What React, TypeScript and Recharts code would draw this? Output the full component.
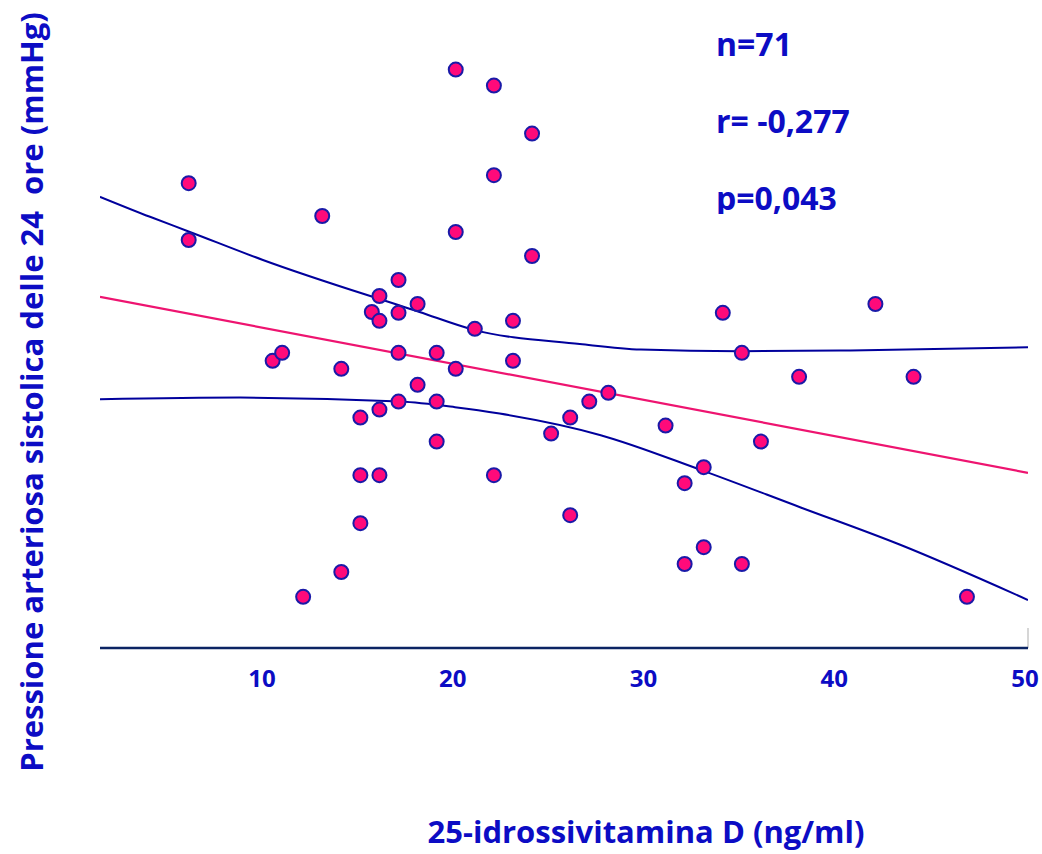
import React from "react";
import {
  ComposedChart,
  Line,
  ReferenceLine,
  Scatter,
  XAxis,
  YAxis,
} from "recharts";

// 25-idrossivitamina D (ng/ml)
const VITAMIN_D = [
  6, 6, 13, 10.4, 10.9, 12, 14, 14, 15, 15, 15, 15.6, 16, 16, 16, 16, 17, 17,
  17, 17, 18, 18, 19, 19, 19, 20, 20, 20, 21, 22, 22, 22, 23, 23, 24, 24, 25,
  26, 26, 27, 28, 31, 32, 32, 33, 33, 34, 35, 35, 36, 38, 42, 44, 46.8,
];

// systolic pressure (24h)
const SYSTOLIC = [
  158.1, 151, 154, 135.9, 136.9, 106.4, 134.9, 109.5, 128.8, 121.6, 115.6, 142,
  144, 140.9, 129.8, 121.6, 146, 141.9, 136.9, 130.8, 143, 132.9, 136.9, 130.8,
  125.8, 172.3, 152, 134.9, 139.9, 170.3, 159.1, 121.6, 140.9, 135.9, 164.3,
  149, 126.8, 128.8, 116.6, 130.8, 131.9, 127.8, 120.6, 110.5, 122.6, 112.6,
  141.9, 136.9, 110.5, 125.8, 133.9, 143, 133.9, 106.4,
];

// regression line endpoints
const FIT_X = [1.35, 50];
const FIT_Y = [143.9, 121.9];

// confidence band
const UPPER_X = [1.35, 3.97, 5.96, 9.89, 18.1, 20.9, 26.5, 29.7, 34.9, 40.7, 50];
const UPPER_Y = [156.4, 153.9, 152.1, 148.5, 142, 139.8, 138, 137.3, 137.1, 137.2, 137.6];
const LOWER_X = [1.35, 8.7, 17.1, 19.96, 22.3, 27.6, 32.8, 38.05, 43.3, 50];
const LOWER_Y = [131.1, 131.3, 130.8, 130.1, 129.3, 126.6, 122.3, 117.6, 112.9, 106];

const X_TICKS = [10, 20, 30, 40, 50];
const STATS = ["n=71", "r= -0,277", "p=0,043"];

const TEXT = "#0c0cc4";
const CURVE = "#00009c";
const FIT = "#ee1470";
const DOT = "#ff0a7a";
const DOT_EDGE = "#1a1aa8";
const AXIS = "#0b2463";
const FONT = "'Open Sans', sans-serif";

const points = VITAMIN_D.map((x, i) => ({ x, y: SYSTOLIC[i] }));
const fit = FIT_X.map((x, i) => ({ x, y: FIT_Y[i] }));
const upper = UPPER_X.map((x, i) => ({ x, y: UPPER_Y[i] }));
const lower = LOWER_X.map((x, i) => ({ x, y: LOWER_Y[i] }));

function Dot(props: any) {
  return (
    <circle cx={props.cx} cy={props.cy} r={7} fill={DOT} stroke={DOT_EDGE} strokeWidth={2} />
  );
}

function Tick(props: any) {
  const { x, y, payload } = props;
  return (
    <text
      x={x - 3}
      y={y + 31}
      textAnchor="middle"
      fill={TEXT}
      fontFamily={FONT}
      fontWeight={700}
      fontSize={24}
    >
      {payload.value}
    </text>
  );
}

export default function App() {
  return (
    <div
      style={{
        position: "absolute",
        left: 0,
        top: 0,
        width: 1042,
        height: 854,
        background: "#fff",
        fontFamily: FONT,
      }}
    >
      <ComposedChart
        width={1042}
        height={854}
        margin={{ top: 48, right: 14, left: 100, bottom: 146 }}
      >
        <XAxis
          type="number"
          dataKey="x"
          domain={[1.35, 50]}
          allowDataOverflow
          ticks={X_TICKS}
          tick={<Tick />}
          tickLine={false}
          tickSize={0}
          tickMargin={8}
          height={60}
          axisLine={{ stroke: AXIS, strokeWidth: 2.5 }}
        />
        <YAxis type="number" dataKey="y" domain={[100, 175]} hide />
        <ReferenceLine
          segment={[
            { x: 50, y: 100 },
            { x: 50, y: 102.5 },
          ]}
          stroke="#c8c8c8"
          strokeWidth={1.5}
        />
        <Line
          data={upper}
          dataKey="y"
          type="monotone"
          stroke={CURVE}
          strokeWidth={2}
          dot={false}
          activeDot={false}
          isAnimationActive={false}
        />
        <Line
          data={lower}
          dataKey="y"
          type="monotone"
          stroke={CURVE}
          strokeWidth={2}
          dot={false}
          activeDot={false}
          isAnimationActive={false}
        />
        <Line
          data={fit}
          dataKey="y"
          type="linear"
          stroke={FIT}
          strokeWidth={2.2}
          dot={false}
          activeDot={false}
          isAnimationActive={false}
        />
        <Scatter data={points} shape={<Dot />} isAnimationActive={false} />
      </ComposedChart>
      <svg
        width={1042}
        height={854}
        style={{ position: "absolute", left: 0, top: 0, pointerEvents: "none" }}
      >
        <defs>
          <clipPath id="statsClip">
            <rect x={0} y={0} width={1042} height={214} />
          </clipPath>
        </defs>
        <g clipPath="url(#statsClip)" fill={TEXT} fontFamily={FONT} fontWeight={700} fontSize={32}>
          {STATS.map((s, i) => (
            <text key={s} x={716} y={56 + i * 77}>
              {s}
            </text>
          ))}
        </g>
        <text
          x={646}
          y={843}
          textAnchor="middle"
          fill={TEXT}
          fontFamily={FONT}
          fontWeight={700}
          fontSize={31}
        >
          25-idrossivitamina D (ng/ml)
        </text>
        <text
          transform="translate(43 392) rotate(-90)"
          textAnchor="middle"
          fill={TEXT}
          fontFamily={FONT}
          fontWeight={700}
          fontSize={31}
          style={{ whiteSpace: "pre" }}
        >
          {"Pressione arteriosa sistolica delle 24  ore (mmHg)"}
        </text>
      </svg>
    </div>
  );
}
